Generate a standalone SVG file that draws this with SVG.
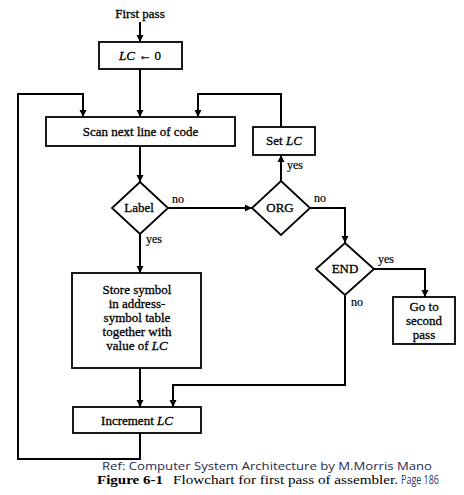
<svg xmlns="http://www.w3.org/2000/svg" width="464" height="495" viewBox="0 0 464 495">
<defs>
<marker id="ah" viewBox="0 0 10 10" refX="10" refY="5" markerWidth="7" markerHeight="8" markerUnits="userSpaceOnUse" orient="auto">
<path d="M0,0 L10,5 L0,10 z" fill="#000"/>
</marker>
<style>
.box{fill:#fff;stroke:#000;stroke-width:1.8}
.arr{fill:none;stroke:#000;stroke-width:2;marker-end:url(#ah)}
.t{font-family:"Liberation Serif","Times New Roman",serif;font-size:13px;fill:#000;stroke:#000;stroke-width:0.3;text-anchor:middle}
.lbl{font-family:"Liberation Serif","Times New Roman",serif;font-size:12px;fill:#000;stroke:#000;stroke-width:0.2}
.i{font-style:italic}
</style>
</defs>
<rect width="464" height="495" fill="#fff"/>
<g id="connectors">
<line class="arr" x1="140" y1="22" x2="140" y2="42"/>
<line class="arr" x1="140" y1="69" x2="140" y2="117"/>
<polyline class="arr" points="140,433 140,459 18,459 18,94 83,94 83,117"/>
<polyline class="arr" points="281,127 281,94 198,94 198,117"/>
<line class="arr" x1="281" y1="181" x2="281" y2="155"/>
<line class="arr" x1="140" y1="146" x2="140" y2="182"/>
<line class="arr" x1="140" y1="234" x2="140" y2="273"/>
<line class="arr" x1="168" y1="208" x2="252" y2="208"/>
<polyline class="arr" points="310,208 345,208 345,243"/>
<polyline class="arr" points="374,269 425,269 425,297"/>
<polyline class="arr" points="345,295 345,385 173,385 173,407"/>
<line class="arr" x1="140" y1="368" x2="140" y2="407"/>
<text class="lbl" x="287" y="169">yes</text>
<text class="lbl" x="146" y="243">yes</text>
<text class="lbl" x="172" y="203">no</text>
<text class="lbl" x="314" y="202">no</text>
<text class="lbl" x="378" y="263">yes</text>
<text class="lbl" x="351" y="306">no</text>
</g>
<g id="start"><text class="t" x="140" y="18">First pass</text></g>
<g id="init"><rect class="box" x="99" y="42" width="83" height="27"/><text class="t" x="140" y="60"><tspan class="i">LC</tspan> ← 0</text></g>
<g id="scan"><rect class="box" x="46" y="117" width="189" height="29"/><text class="t" x="140.5" y="136">Scan next line of code</text></g>
<g id="label"><polygon class="box" points="140,182 168,208 140,234 112,208"/><text class="t" x="139" y="212">Label</text></g>
<g id="org"><polygon class="box" points="281,181 310,208 281,235 252,208"/><text class="t" x="280" y="212">ORG</text></g>
<g id="setlc"><rect class="box" x="253" y="127" width="62" height="28"/><text class="t" x="284" y="145">Set <tspan class="i">LC</tspan></text></g>
<g id="end"><polygon class="box" points="345,243 374,269 345,295 316,269"/><text class="t" x="345" y="273">END</text></g>
<g id="goto"><rect class="box" x="393" y="297" width="62" height="47"/><text class="t" x="424" y="311">Go to</text><text class="t" x="424" y="325">second</text><text class="t" x="424" y="339">pass</text></g>
<g id="store"><rect class="box" x="72" y="273" width="129" height="95"/>
<text class="t" x="137" y="294">Store symbol</text>
<text class="t" x="137" y="308">in address-</text>
<text class="t" x="137" y="322">symbol table</text>
<text class="t" x="137" y="336">together with</text>
<text class="t" x="137" y="350">value of <tspan class="i">LC</tspan></text></g>
<g id="inc"><rect class="box" x="73" y="407" width="128" height="26"/><text class="t" x="137" y="425">Increment <tspan class="i">LC</tspan></text></g>
<g id="caption">
<text x="102" y="470" font-family="'Open Sans','Noto Sans',sans-serif" font-size="11.5" fill="#1f2a4f" textLength="330" lengthAdjust="spacingAndGlyphs">Ref: Computer System Architecture by M.Morris Mano</text>
<text x="97" y="484" font-family="'Liberation Serif',serif" font-size="12" font-weight="bold" fill="#000" textLength="66" lengthAdjust="spacingAndGlyphs">Figure 6-1</text>
<text x="173" y="484" font-family="'Liberation Serif',serif" font-size="12" fill="#000" textLength="225" lengthAdjust="spacingAndGlyphs">Flowchart for first pass of assembler.</text>
<text x="401" y="484" font-family="'Open Sans','Noto Sans',sans-serif" font-size="12" fill="#1f3a7a" textLength="38" lengthAdjust="spacingAndGlyphs">Page 186</text>
</g>
</svg>
